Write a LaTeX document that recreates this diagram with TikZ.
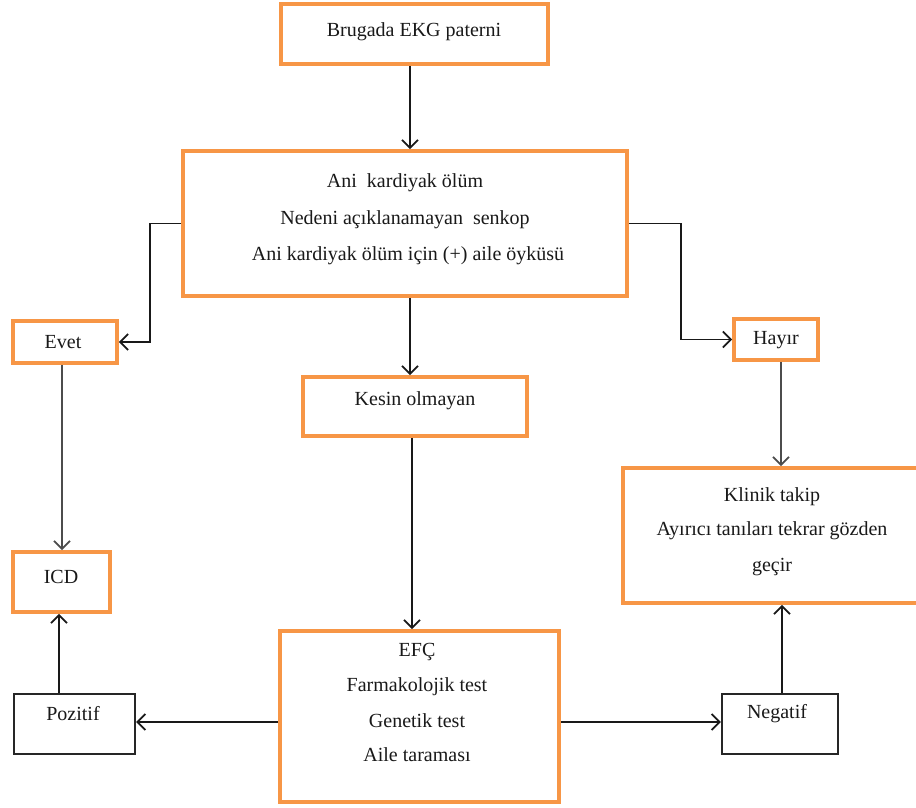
\documentclass[tikz,border=0pt]{standalone}
\usepackage{fontspec}
\setmainfont{Liberation Serif}
\usetikzlibrary{arrows.meta}
\definecolor{org}{HTML}{F79646}
\tikzset{
 obox/.style={draw=org, line width=3.6pt, inner sep=0pt},
 kbox/.style={draw=black!85, line width=2.2pt, inner sep=0pt},
 txt/.style={font=\fontsize{20}{23}\selectfont, inner sep=0pt, align=center, text=black!90},
 conn/.style={line width=1.8pt, draw=black!90, -{Straight Barb[length=8pt,width=16pt,line width=1.8pt]}},
 gconn/.style={conn, draw=black!70},
}
\begin{document}
\begin{tikzpicture}[x=1pt,y=-1pt]
\useasboundingbox (0,0) rectangle (916,807);
\clip (0,0) rectangle (916,807);
\fill[white] (0,0) rectangle (916,807);
% boxes
\node[obox, minimum width=267, minimum height=60] (b1) at (414.5,34) {};
\node[obox, minimum width=444, minimum height=145] (b2) at (405,223.5) {};
\node[obox, minimum width=104, minimum height=42] (evet) at (65,342) {};
\node[obox, minimum width=84, minimum height=41] (hayir) at (776,339.5) {};
\node[obox, minimum width=224, minimum height=59] (kesin) at (415,406.5) {};
\node[obox, minimum width=307, minimum height=135] (klinik) at (776.5,535.5) {};
\node[obox, minimum width=97, minimum height=60] (icd) at (61.5,582) {};
\node[obox, minimum width=279, minimum height=171] (efc) at (419.5,716.5) {};
\node[kbox, minimum width=121, minimum height=60] (poz) at (74.5,724) {};
\node[kbox, minimum width=116, minimum height=60] (neg) at (780,724) {};
% texts
\node[txt] (t1) at (414,32) {Brugada EKG paterni};
\node[txt] (t2a) at (405,183) {Ani\ \ kardiyak ölüm};
\node[txt] (t2b) at (405,220) {Nedeni açıklanamayan\ \ senkop};
\node[txt] (t2c) at (408,256) {Ani kardiyak ölüm için (+) aile öyküsü};
\node[txt] (tevet) at (63,342) {Evet};
\node[txt] (thayir) at (776,340) {Hayır};
\node[txt] (tkesin) at (415,401) {Kesin olmayan};
\node[txt] (tk1) at (772,497) {Klinik takip};
\node[txt] (tk2) at (772,531) {Ayırıcı tanıları tekrar gözden};
\node[txt] (tk3) at (772,567) {geçir};
\node[txt] (ticd) at (61,577) {ICD};
\node[txt] (te1) at (417,652) {EFÇ};
\node[txt] (te2) at (417,687) {Farmakolojik test};
\node[txt] (te3) at (417,721) {Genetik test};
\node[txt] (te4) at (417,755) {Aile taraması};
\node[txt] (tpoz) at (73,714) {Pozitif};
\node[txt] (tneg) at (777,714) {Negatif};
% helper coordinates
\coordinate (xa) at (410,0);
\coordinate (xb) at (412,0);
\coordinate (xevet) at (62,0);
\coordinate (xpoz) at (59,0);
\coordinate (xhay) at (781,0);
\coordinate (xneg) at (782,0);
\coordinate (yefc) at (0,722);
% connectors
\draw[conn] (b1.south -| xa) -- (b2.north -| xa);
\draw[conn] (b2.west) -- ++(-31,0) |- (evet.east);
\draw[conn] (b2.east) -- ++(52,0) |- (hayir.west);
\draw[conn] (b2.south -| xa) -- (kesin.north -| xa);
\draw[conn] (kesin.south -| xb) -- (efc.north -| xb);
\draw[gconn] (evet.south -| xevet) -- (icd.north -| xevet);
\draw[gconn] (hayir.south -| xhay) -- (klinik.north -| xhay);
\draw[conn] (efc.west |- yefc) -- (poz.east |- yefc);
\draw[conn] (efc.east |- yefc) -- (neg.west |- yefc);
\draw[conn] (poz.north -| xpoz) -- (icd.south -| xpoz);
\draw[conn] (neg.north -| xneg) -- (klinik.south -| xneg);
\end{tikzpicture}
\end{document}
